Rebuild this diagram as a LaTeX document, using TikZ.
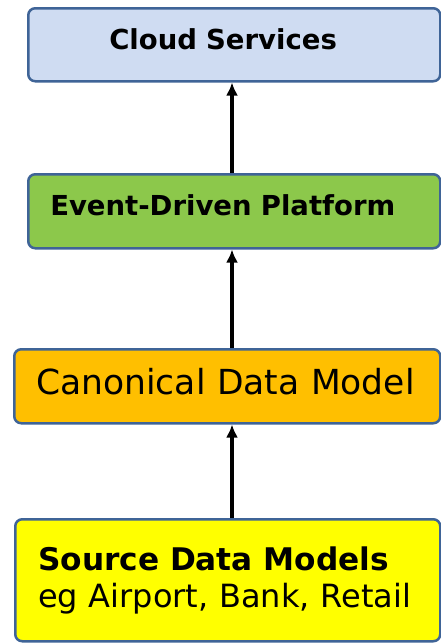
\documentclass[tikz,border=0pt]{standalone}
\usepackage{fontspec}
\setmainfont{DejaVu Sans}
\usepackage{xcolor}
\usepackage{tikz}
\usetikzlibrary{shapes,arrows.meta}
\definecolor{edgeBL}{HTML}{3F6497}
\definecolor{fillBL}{HTML}{CFDCF2}
\definecolor{fillGR}{HTML}{8CC84B}
\definecolor{fillOR}{HTML}{FFBF00}
\definecolor{fillYL}{HTML}{FFFF00}
\tikzstyle{layer} = [rectangle, draw=edgeBL, line width=2.5pt, rounded corners=7pt, anchor=north west, align=left, inner ysep=0pt]
\tikzstyle{layerBL} = [layer, fill=fillBL, minimum width=412pt, minimum height=73pt, inner xsep=81pt, text width=250pt, text depth=12pt, font=\fontsize{27.5}{32}\selectfont\bfseries]
\tikzstyle{layerGR} = [layer, fill=fillGR, minimum width=412pt, minimum height=74pt, inner xsep=22pt, text width=368pt, text depth=12pt, font=\fontsize{27.5}{32}\selectfont\bfseries]
\tikzstyle{layerOR} = [layer, fill=fillOR, minimum width=426pt, minimum height=74pt, inner xsep=22pt, text width=382pt, text depth=10pt, font=\fontsize{34.5}{40}\selectfont]
\tikzstyle{layerYL} = [layer, fill=fillYL, minimum width=425pt, minimum height=122pt, inner xsep=23pt, text width=379pt, font=\fontsize{32}{37}\selectfont]
\tikzstyle{line} = [draw, line width=3.4pt, -{Latex[length=13pt,width=12pt]}]

\begin{document}
\begin{tikzpicture}[x=1pt, y=-1pt]
  \useasboundingbox (0,0) rectangle (441,643);

    % nodes
    \node [layerBL] (cloud) at (27,7) {Cloud Services};
    \node [layerGR] (eda) at (27,173) {Event-Driven Platform};
    \node [layerOR] (cdm) at (13,348) {Canonical Data Model};
    \node [layerYL] (sdm) at (14,518) {{\fontsize{31.2}{37}\selectfont\bfseries Source Data Models}\\
      eg Airport, Bank, Retail\par\vspace*{8pt}};

    % edges
    \coordinate (spine) at (232,0);
    \path [line] (eda.north -| spine) -- (cloud.south -| spine);
    \path [line] (cdm.north -| spine) -- (eda.south -| spine);
    \path [line] (sdm.north -| spine) -- (cdm.south -| spine);

\end{tikzpicture}
\end{document}
